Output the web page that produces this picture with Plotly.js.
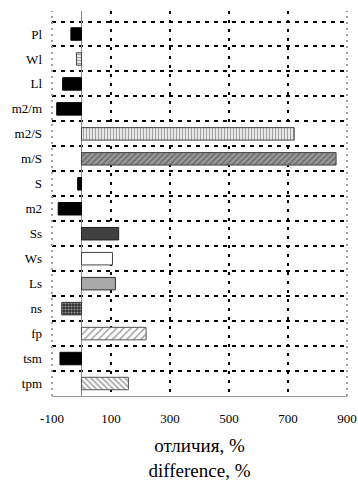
<!DOCTYPE html>
<html>
<head>
<meta charset="utf-8">
<script src="https://cdn.plot.ly/plotly-3.0.1.min.js"></script>
<style>
  html, body { margin: 0; padding: 0; background: #fff; }
  #chart { width: 358px; height: 489px; }
</style>
</head>
<body>
<div id="chart"></div>
<script>
// Indicators, top to bottom
const categories = ["Pl", "Wl", "Ll", "m2/m", "m2/S", "m/S", "S", "m2",
                    "Ss", "Ws", "Ls", "ns", "fp", "tsm", "tpm"];
// Difference of each indicator, %
const differences = [-36, -17, -64, -84, 721, 863, -13, -79,
                     126, 105, 115, -67, 219, -73, 159];
// Axis ticks
const xTicks = [-100, 100, 300, 500, 700, 900];
const xTickLabels = ["-100", "100", "300", "500", "700", "900"];
const xGridTicks = [100, 300, 500, 700];

// Fill style of each bar
const fillColors = ["#000", "#fff", "#000", "#000", "#fff", "#9a9a9a", "#000", "#000",
                    "#404040", "#fff", "#a9a9a9", "#2e2e2e", "#fff", "#000", "#fff"];
const patternShapes = ["", "-", "", "", "|", "/", "", "",
                       "", "", "", ".", "/", "", "\\"];
const patternFg = ["#000", "#000", "#000", "#000", "#000", "#444", "#000", "#000",
                   "#000", "#000", "#000", "#777", "#111", "#000", "#222"];
const patternSize = [4, 3, 4, 4, 3, 4, 4, 4, 4, 4, 4, 3, 5, 4, 4];
const patternSolidity = [0.4, 0.5, 0.4, 0.4, 0.5, 0.45, 0.4, 0.4, 0.4, 0.4, 0.4, 0.4, 0.3, 0.4, 0.4];
const lineColors = ["#000", "#444", "#000", "#000", "#444", "#444", "#000", "#000",
                    "#222", "#444", "#333", "#333", "#555", "#000", "#555"];

const serif = "'Liberation Serif', 'Times New Roman', 'DejaVu Serif', serif";

const bars = {
  type: "bar",
  orientation: "h",
  y: categories,
  x: differences,
  width: 0.5,
  marker: {
    color: fillColors,
    line: { color: lineColors, width: 1 },
    pattern: {
      shape: patternShapes,
      fgcolor: patternFg,
      size: patternSize,
      solidity: patternSolidity,
      fillmode: "overlay"
    }
  },
  hoverinfo: "x+y",
  showlegend: false
};

// Invisible companion trace that carries the dashed vertical grid axis
const gridHolder = {
  type: "scatter",
  mode: "markers",
  x: [xTicks[0]],
  y: [categories[0]],
  xaxis: "x2",
  marker: { opacity: 0 },
  hoverinfo: "skip",
  showlegend: false
};

const layout = {
  width: 358,
  height: 489,
  margin: { l: 52, r: 11, t: 11, b: 93 },
  paper_bgcolor: "#fff",
  plot_bgcolor: "#fff",
  font: { family: serif, color: "#000", size: 13 },
  xaxis: {
    range: [-100, 900],
    tickmode: "array",
    tickvals: xTicks,
    ticktext: xTickLabels,
    ticks: "",
    ticklabelstandoff: 10,
    tickfont: { family: serif, size: 13, color: "#000" },
    showgrid: false,
    zeroline: true,
    zerolinecolor: "#8c8c8c",
    zerolinewidth: 1,
    showline: true,
    linecolor: "#9a9a9a",
    linewidth: 1,
    fixedrange: true,
    title: {
      text: "отличия, %<br>difference, %",
      font: { family: serif, size: 19, color: "#000" },
      standoff: 14
    },
    automargin: false
  },
  xaxis2: {
    overlaying: "x",
    matches: "x",
    anchor: "y",
    side: "bottom",
    tickmode: "array",
    tickvals: xGridTicks,
    showticklabels: false,
    ticks: "",
    showgrid: true,
    gridcolor: "#000",
    gridwidth: 2,
    griddash: "3px,6px",
    zeroline: false,
    showline: false
  },
  yaxis: {
    type: "category",
    autorange: "reversed",
    tickson: "boundaries",
    ticks: "",
    ticklabelstandoff: 9,
    tickfont: { family: serif, size: 13, color: "#000" },
    showgrid: true,
    gridcolor: "#000",
    gridwidth: 2,
    griddash: "4px,5px",
    zeroline: false,
    showline: false,
    fixedrange: true,
    automargin: false
  },
  shapes: [
    // dotted frame edges on the left and right
    { type: "line", xref: "paper", yref: "paper", x0: 0, x1: 0, y0: 0, y1: 1,
      line: { color: "#a0a0a0", width: 2, dash: "2px,4px" } },
    { type: "line", xref: "paper", yref: "paper", x0: 1, x1: 1, y0: 0, y1: 1,
      line: { color: "#a0a0a0", width: 2, dash: "2px,4px" } }
  ]
};

Plotly.newPlot("chart", [bars, gridHolder], layout, { displayModeBar: false, staticPlot: true });
</script>
</body>
</html>
